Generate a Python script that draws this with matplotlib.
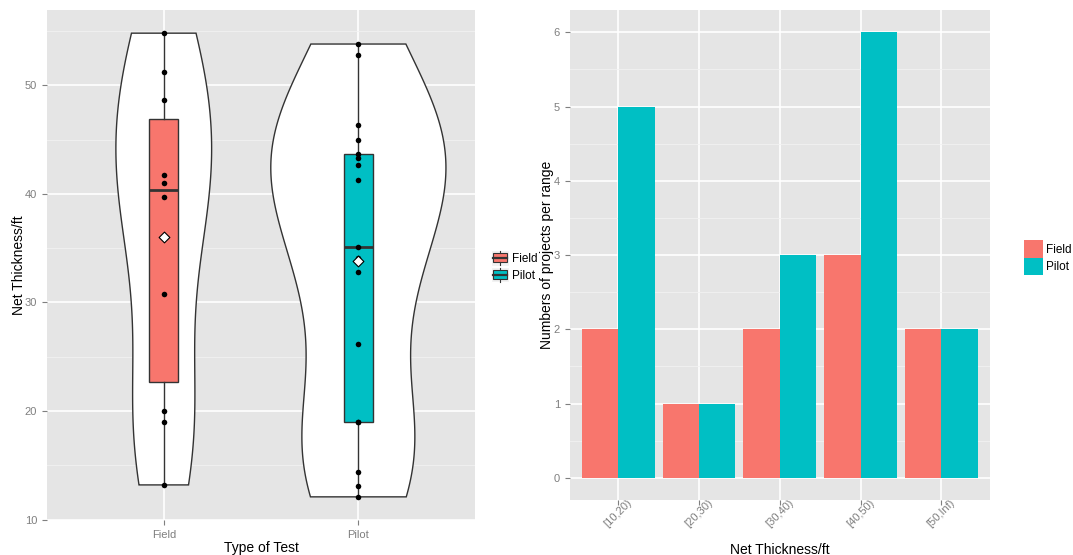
import numpy as np
import matplotlib
matplotlib.use("Agg")
import matplotlib.pyplot as plt
from matplotlib.patches import Rectangle, Patch
from matplotlib.lines import Line2D
from matplotlib.legend_handler import HandlerBase

plt.rcParams['font.family'] = ['Liberation Sans', 'DejaVu Sans']

# data
test_types = ['Field', 'Pilot']
field_thickness = [54.8, 51.2, 48.6, 41.7, 41.0, 39.7, 30.8, 20.0, 19.0, 13.2]
pilot_thickness = [53.8, 52.8, 46.3, 45.0, 43.7, 43.3, 42.7, 41.3, 35.1, 34.1,
                   32.8, 26.2, 19.0, 19.0, 14.4, 13.1, 12.1]

ranges = ['[10,20)', '[20,30)', '[30,40)', '[40,50)', '[50,Inf)']
field_counts = [2, 1, 2, 3, 2]
pilot_counts = [5, 1, 3, 6, 2]

colors = ['#F8766D', '#00BFC4']
panel_bg = '#E5E5E5'
tick_grey = '#7F7F7F'


def bw_nrd0(x):
    """R's default bandwidth rule"""
    x = np.asarray(x)
    sd = x.std(ddof=1)
    q75, q25 = np.percentile(x, [75, 25])
    lo = min(sd, (q75 - q25) / 1.34)
    return 0.9 * lo * len(x) ** -0.2


def kde(x, grid):
    x = np.asarray(x)
    bw = bw_nrd0(x)
    z = (grid[:, None] - x[None, :]) / bw
    return np.exp(-0.5 * z ** 2).sum(axis=1) / (len(x) * bw * np.sqrt(2 * np.pi))


def style_axes(ax):
    ax.set_facecolor(panel_bg)
    for s in ax.spines.values():
        s.set_visible(False)
    ax.grid(True, which='major', color='white', lw=1.2)
    ax.grid(True, which='minor', axis='y', color='#F2F2F2', lw=0.6)
    ax.set_axisbelow(True)
    ax.tick_params(which='major', colors=tick_grey, labelsize=8, length=3.5, width=0.8,
                   labelcolor=tick_grey)
    ax.tick_params(which='minor', length=0)


class BoxKey(HandlerBase):
    def create_artists(self, legend, orig_handle, xdescent, ydescent, width, height,
                       fontsize, trans):
        x0, y0 = -xdescent, -ydescent
        bg = Rectangle((x0, y0), width, height, facecolor='#F2F2F2', edgecolor='white',
                       lw=0.8, transform=trans)
        box = Rectangle((x0 + 0.1 * width, y0 + 0.2 * height), 0.8 * width, 0.6 * height,
                        facecolor=orig_handle.get_facecolor(), edgecolor='#333333', lw=0.8,
                        transform=trans)
        cx = x0 + width / 2
        w1 = Line2D([cx, cx], [y0 + 0.05 * height, y0 + 0.2 * height], color='#333333',
                    lw=0.8, transform=trans)
        w2 = Line2D([cx, cx], [y0 + 0.8 * height, y0 + 0.95 * height], color='#333333',
                    lw=0.8, transform=trans)
        med = Line2D([x0 + 0.1 * width, x0 + 0.9 * width], [y0 + height / 2] * 2,
                     color='#333333', lw=1.6, transform=trans)
        return [bg, box, w1, w2, med]


fig = plt.figure(figsize=(10.73, 5.55), dpi=100)
ax1 = fig.add_axes([0.0438, 0.063, 0.399, 0.919])
ax2 = fig.add_axes([0.531, 0.099, 0.3914, 0.883])

# ---- left: violin (scaled by count) + box + points ----
groups = [field_thickness, pilot_thickness]
positions = [1, 2]
grids, dens = [], []
for vals in groups:
    g = np.linspace(min(vals), max(vals), 512)
    grids.append(g)
    dens.append(kde(vals, g) * len(vals))
dmax = max(d.max() for d in dens)
for pos, g, d in zip(positions, grids, dens):
    w = d / dmax * 0.45
    xs = np.concatenate([pos - w, (pos + w)[::-1], [pos - w[0]]])
    ys = np.concatenate([g, g[::-1], [g[0]]])
    ax1.fill(xs, ys, facecolor='white', edgecolor='#333333', lw=1.0, zorder=2)

bp = ax1.boxplot(groups, positions=positions, widths=0.15, patch_artist=True,
                 showcaps=False, showfliers=False, manage_ticks=False,
                 medianprops=dict(color='#333333', lw=2.0),
                 whiskerprops=dict(color='#333333', lw=1.0),
                 boxprops=dict(edgecolor='#333333', lw=1.0), zorder=3)
for patch, c in zip(bp['boxes'], colors):
    patch.set_facecolor(c)

for pos, vals in zip(positions, groups):
    ax1.scatter([pos] * len(vals), vals, s=16, color='black', zorder=4, linewidths=0)
    ax1.scatter([pos], [np.mean(vals)], marker='D', s=30, facecolor='white',
                edgecolor='black', lw=0.8, zorder=5)

lo = min(min(v) for v in groups)
hi = max(max(v) for v in groups)
pad = 0.05 * (hi - lo)
ax1.set_ylim(lo - pad, hi + pad)
ax1.set_xlim(0.4, 2.6)
ax1.set_xticks(positions, test_types)
ax1.set_yticks([10, 20, 30, 40, 50])
ax1.set_yticks([15, 25, 35, 45, 55], minor=True)
style_axes(ax1)
ax1.set_xlabel('Type of Test', fontsize=10, labelpad=1)
ax1.set_ylabel('Net Thickness/ft', fontsize=10, labelpad=-1)

box_handles = [Patch(facecolor=c) for c in colors]
fig.legend(box_handles, test_types, handler_map={Patch: BoxKey()},
           loc='center left', bbox_to_anchor=(0.458, 0.52), frameon=False,
           fontsize=8.5, handlelength=1.45, handleheight=1.6, handletextpad=0.3,
           labelspacing=0.15, borderpad=0, borderaxespad=0)

# ---- right: dodged bars ----
x = np.arange(len(ranges))
ax2.bar(x - 0.225, field_counts, width=0.45, color=colors[0], label='Field', zorder=2)
ax2.bar(x + 0.225, pilot_counts, width=0.45, color=colors[1], label='Pilot', zorder=2)
ymax = max(max(field_counts), max(pilot_counts))
ax2.set_ylim(-0.05 * ymax, ymax * 1.05)
ax2.set_xlim(-0.6, len(ranges) - 0.4)
ax2.set_yticks(range(0, ymax + 1))
ax2.set_yticks(np.arange(0.5, ymax, 1.0), minor=True)
ax2.set_xticks(x, ranges, rotation=45, ha='center', va='center',
               rotation_mode='anchor')
style_axes(ax2)
ax2.tick_params(axis='x', pad=6)
ax2.set_xlabel('Net Thickness/ft', fontsize=10, labelpad=10)
ax2.set_ylabel('Numbers of projects per range', fontsize=10, labelpad=0)

ax2.legend(loc='center left', bbox_to_anchor=(0.954, 0.536),
           bbox_transform=fig.transFigure, frameon=False, fontsize=8.5,
           handlelength=1.6, handleheight=1.9, handletextpad=0.3,
           labelspacing=0.0, borderpad=0, borderaxespad=0)

fig.savefig('out.png', dpi=100)
